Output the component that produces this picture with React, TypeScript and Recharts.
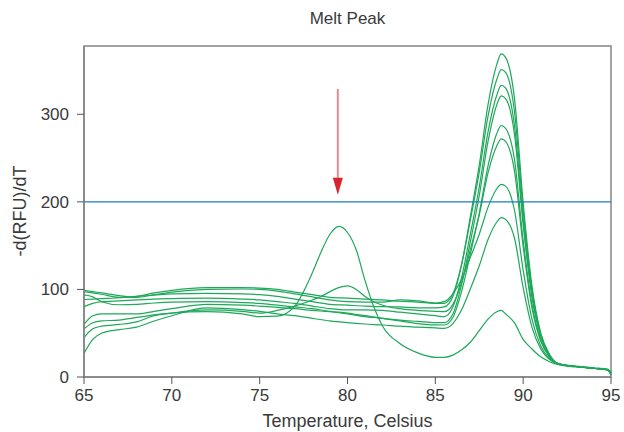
import React from 'react';
import { LineChart, Line, XAxis, YAxis, ReferenceLine, ReferenceArea } from 'recharts';

// melt temperatures (°C) the runs were sampled at
const temps = [65, 65.5, 66, 67, 68, 69, 70, 72, 74, 75, 76, 77, 78, 78.5, 79, 79.5, 80, 80.5, 81, 81.5, 82, 83, 84, 85, 85.5, 86, 86.5, 87, 87.5, 88, 88.5, 88.75, 89, 89.5, 90, 90.5, 91, 91.5, 92, 93, 94, 94.8, 95];

// -d(RFU)/dT for each well (null = no reading, line is joined across)
const run1 = [88.5, 89, 89.5, 90.5, 92, 93.5, 95, 95.6, 95, 94, 92, 89, 86, null, 83, null, 82, null, 81, null, 80.4, 80, 79, 79, 80, 92, 129, 184, 242, 311, 357, 369, 365, 319, 199, 104, 50, 26, 15, 12, 10, 8.5, 3];
const run2 = [97.5, 96, 94.5, 91, 92, 96, 99, 102, 102, 101.5, 100, 97, 94, null, 91, null, 90, null, 89, null, 88, 86.5, 85.5, 84, 84, 95, 129, 180, 234, 298, 340, 351, 348, 304, 190, 99, 49, 25, 15, 12.5, 10.5, 9, 5];
const run3 = [80.4, 84, 86, 87, 88, 89, 89.5, 90, 89, 88, 86, 84, 81, null, 78, null, 76.6, null, 76.6, null, 76, 74, 72, 70, 69, 80, 114, 164, 217, 280, 322, 333, 330, 288, 180, 95, 47, 24.5, 15, 12, 10, 8, 2];
const run4 = [93.7, 91.5, 86, 82.5, 83, 84.5, 85.5, 86, 85, 84, 82, 80, 78, null, 75, null, 73, null, 70, null, 67, 65, 63.5, 62, 62, 72, 106, 155, 207, 269, 311, 321, 318, 278, 174, 91.5, 46, 24, 15, 12, 10, 8.5, 4];
const run5 = [60, 70, 72, 72, 72, 75, 78, 83, 82, 81, 79.5, 78, 76, null, 74.5, null, 72, null, 69, null, 67, 64, 61, 59.5, 59.4, 68, 98, 141, 187, 241, 278, 287, 284, 249, 156, 83, 42, 23, 15, 12, 10, 8, 6];
const run6 = [45, 55, 58, 60, 63, 70, 73, 76.6, 75, 73, 76, 81, 88, 92, 97.5, 102, 104, 100, 92, 86, 82, 78, 76, 75, 74.6, 83, 108, 146, 185, 233, 264, 272, 269, 236, 149, 79, 41, 23, 15, 12, 10, 8.5, 3];
const run7 = [99, 97.5, 96, 93, 91, 94, 97, 100, 100.5, 100, 98, 95, 91.5, null, 88, null, 86, null, 85.5, null, 85.5, 88, 87, 84.5, 86, 95, 112, 137, 163, 194, 215, 220, 218, 191, 122, 66, 35.5, 21, 15, 12, 10, 8.5, 4];
const run8 = [27, 43, 50, 54, 57, 64, 70, 79, 77, 75, 72, 70, 67, null, 64, null, 62, null, 60.5, null, 59.4, 58, 57, 56, 55.6, 61, 77, 101, 127, 157, 177, 182, 180, 159, 102, 57, 32, 20, 15, 12, 10, 8, 5];
const run9 = [55, 62, 64, 65, 68, 71, 73, 74.6, 72, 69, 69.5, 81, 119, 143, 163, 172, 165, 145, 110, 80, 58, 38, 27.5, 22.5, 22.5, 25, 31, 40, 53, 66, 74.5, 76, 72, 62, 43, 32, 23, 17.5, 14, 11.5, 10, 8.5, 3];

const xTicks = [65, 70, 75, 80, 85, 90, 95];
const yTicks = [0, 100, 200, 300];
const threshold = 200;
// arrow pointing at the primer-dimer peak
const arrowX = 79.45;
const arrowFrom = 329;
const arrowTo = 208;

const runKeys = ['run1', 'run2', 'run3', 'run4', 'run5', 'run6', 'run7', 'run8', 'run9'];
const rows = temps.map((t, i) => ({
  t,
  run1: run1[i],
  run2: run2[i],
  run3: run3[i],
  run4: run4[i],
  run5: run5[i],
  run6: run6[i],
  run7: run7[i],
  run8: run8[i],
  run9: run9[i],
}));

const font = '"Liberation Sans", Arial, sans-serif';
const textColor = '#3a3a3a';
const axisGrey = '#858585';

function Arrow(props: any) {
  const { x1, y1, x2, y2 } = props;
  const head = 17;
  return (
    <g>
      <line x1={x1} y1={y1} x2={x2} y2={y2 - head + 2} stroke="#ec8a94" strokeWidth={2} />
      <polygon points={`${x2 - 5},${y2 - head} ${x2 + 5},${y2 - head} ${x2},${y2}`} fill="#d9232e" />
    </g>
  );
}

export default function App() {
  return (
    <div style={{ position: 'absolute', left: 0, top: 0, width: 624, height: 432, background: '#fff', overflow: 'hidden', fontFamily: font }}>
      <div style={{ position: 'absolute', left: 84, width: 527, top: 9, textAlign: 'center', fontSize: 17, color: textColor }}>
        Melt Peak
      </div>
      <div
        style={{
          position: 'absolute', left: 20, top: 211, fontSize: 18, color: textColor, whiteSpace: 'nowrap',
          transform: 'translate(-50%, -50%) rotate(-90deg)',
        }}
      >
        -d(RFU)/dT
      </div>
      <div style={{ position: 'absolute', left: 84, width: 527, top: 411, lineHeight: '20px', textAlign: 'center', fontSize: 18, color: textColor, whiteSpace: 'nowrap' }}>
        Temperature, Celsius
      </div>
      <LineChart width={624} height={432} data={rows} margin={{ top: 46, right: 13, left: 0, bottom: 0 }}>
        <ReferenceArea x1={65} x2={95} y1={0} y2={378} fill="none" stroke={axisGrey} strokeWidth={1.5} strokeOpacity={1} />
        <XAxis
          dataKey="t"
          type="number"
          domain={[65, 95]}
          ticks={xTicks}
          interval={0}
          height={55}
          tickSize={7}
          tickMargin={5}
          axisLine={{ stroke: axisGrey, strokeWidth: 1.5 }}
          tickLine={{ stroke: '#555', strokeWidth: 1 }}
          tick={{ fill: textColor, fontSize: 17, fontFamily: font }}
        />
        <YAxis
          type="number"
          domain={[0, 378]}
          ticks={yTicks}
          interval={0}
          width={84}
          tickSize={7}
          tickMargin={8}
          axisLine={{ stroke: axisGrey, strokeWidth: 1.5 }}
          tickLine={{ stroke: '#555', strokeWidth: 1 }}
          tick={{ fill: textColor, fontSize: 17, fontFamily: font }}
        />
        {runKeys.map((k) => (
          <Line
            key={k}
            type="monotone"
            dataKey={k}
            stroke="#1ea85a"
            strokeWidth={1.2}
            dot={false}
            activeDot={false}
            connectNulls
            isAnimationActive={false}
          />
        ))}
        <ReferenceLine y={threshold} stroke="#1f7bc4" strokeWidth={1.3} />
        <ReferenceLine
          segment={[{ x: arrowX, y: arrowFrom }, { x: arrowX, y: arrowTo }]}
          shape={(p: any) => <Arrow {...p} />}
        />
      </LineChart>
    </div>
  );
}
